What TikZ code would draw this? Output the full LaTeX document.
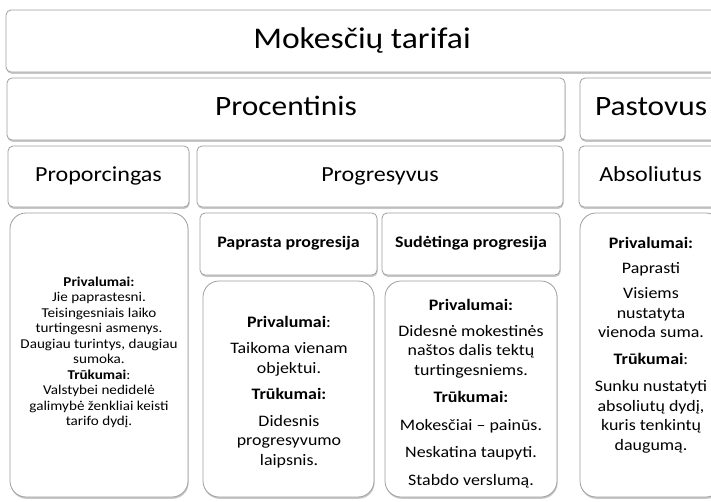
\documentclass[tikz,border=0pt]{standalone}
\usepackage{fontspec}
\setmainfont{Carlito}[FakeStretch=1.12]
\usetikzlibrary{shadows}
\tikzset{
  box/.style={draw=black!38, line width=0.8pt, fill=white, rounded corners=5pt,
    inner sep=0pt, align=center,
    drop shadow={shadow xshift=0.6pt, shadow yshift=-1.8pt, opacity=0.4, fill=black!55}},
  dbox/.style={box, rounded corners=16pt},
  lvlone/.style={font=\fontsize{30}{36}\selectfont, text height=21pt, text depth=6.6pt},
  lvltwo/.style={font=\fontsize{28}{34}\selectfont, text height=19.6pt, text depth=6.2pt},
  lvlthree/.style={font=\fontsize{21.5}{26}\selectfont, text height=15pt, text depth=4.7pt},
  lvlsub/.style={font=\bfseries\fontsize{16}{19}\selectfont, text height=11.2pt, text depth=3.5pt},
  dtext/.style={align=center, inner sep=0pt, font=\fontsize{16}{19.5}\selectfont},
  stext/.style={align=center, inner sep=0pt, font=\fontsize{13.5}{15.5}\selectfont}
}
\begin{document}
\begin{tikzpicture}[x=1pt,y=-1pt]
\useasboundingbox (0,0) rectangle (711,501);
\clip (0,0) rectangle (711,501);
% headers
\node[box, lvlone, minimum width=712pt, minimum height=62pt] (title) at (362,41) {Mokesčių tarifai};
\node[box, lvltwo, minimum width=558pt, minimum height=62pt] (proc) at (286,109) {Procentinis};
\node[box, lvltwo, minimum width=142pt, minimum height=62pt] (past) at (651,109) {Pastovus};
\node[box, lvlthree, minimum width=181pt, minimum height=61pt] (propc) at (98.5,176.5) {Proporcingas};
\node[box, lvlthree, minimum width=366pt, minimum height=61pt] (progr) at (380,176.5) {Progresyvus};
\node[box, lvlthree, minimum width=143pt, minimum height=61pt] (absol) at (650.5,176.5) {Absoliutus};
\node[box, lvlsub, minimum width=177pt, minimum height=62pt] (papr) at (288.5,244) {Paprasta progresija};
\node[box, lvlsub, minimum width=178pt, minimum height=62pt] (sude) at (471,244) {Sudėtinga progresija};
% detail boxes
\node[dbox, minimum width=178pt, minimum height=284pt] (propcD) at (99,355) {};
\node[dbox, minimum width=171pt, minimum height=216pt] (paprD) at (288.5,389) {};
\node[dbox, minimum width=172pt, minimum height=216pt] (sudeD) at (471,389) {};
\node[dbox, minimum width=142pt, minimum height=284pt] (absolD) at (651,355) {};
% detail texts
\node[stext] (propcT) at (99,352.5) {\textbf{Privalumai:}\\ Jie paprastesni.\\ Teisingesniais laiko\\ turtingesni asmenys.\\ Daugiau turintys, daugiau\\ sumoka.\\ \textbf{Trūkumai}:\\ Valstybei nedidelė\\ galimybė ženkliai keisti\\ tarifo dydį.};
\node[dtext] (paprT) at (289,392) {\textbf{Privalumai}:\\[7pt] Taikoma vienam\\ objektui.\\[7pt] \textbf{Trūkumai:}\\[7pt] Didesnis\\ progresyvumo\\ laipsnis.};
\node[dtext] (sudeT) at (471,393.5) {\textbf{Privalumai:}\\[6pt] Didesnė mokestinės\\ naštos dalis tektų\\ turtingesniems.\\[8pt] \textbf{Trūkumai:}\\[8pt] Mokesčiai – painūs.\\[8pt] Neskatina taupyti.\\[8pt] Stabdo verslumą.};
\node[dtext] (absolT) at (651,345.5) {\textbf{Privalumai:}\\[5pt] Paprasti\\[6pt] Visiems\\ nustatyta\\ vienoda suma.\\[7pt] \textbf{Trūkumai}:\\[8pt] Sunku nustatyti\\ absoliutų dydį,\\ kuris tenkintų\\ daugumą.};
\end{tikzpicture}
\end{document}
